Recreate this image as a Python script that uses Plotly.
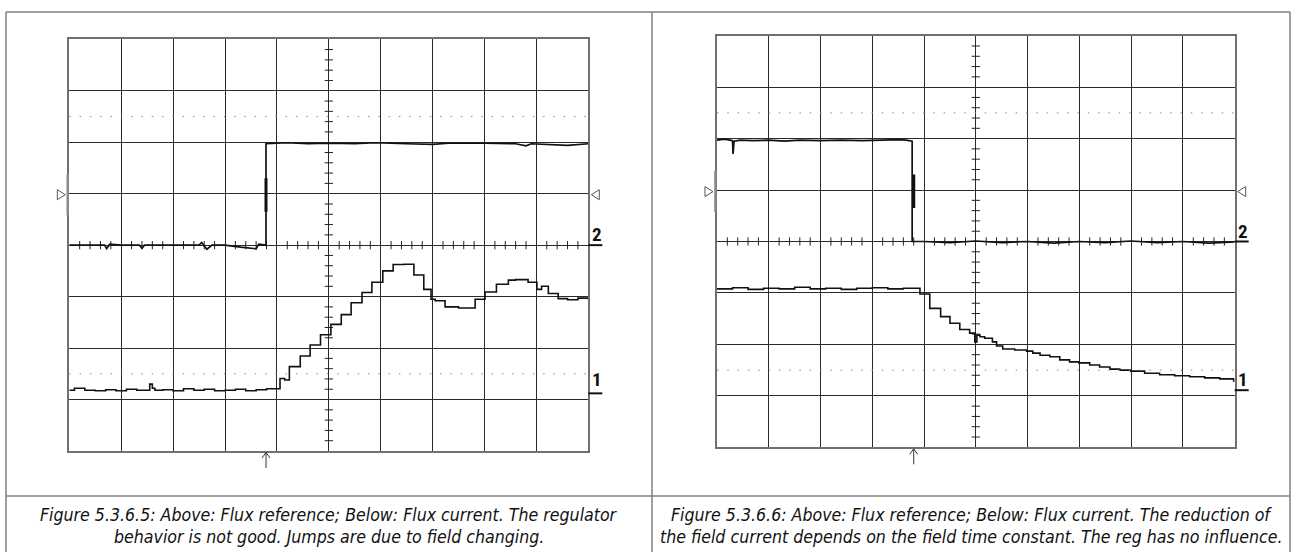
import numpy as np
import plotly.graph_objects as go

# Scope units: time in horizontal divisions (0..10), level in vertical divisions (-4..4)

# ---- Figure 5.3.6.5 (left) ----
ref_left_t = [0, 0.3, 0.68, 0.72, 0.78, 1.0, 1.35, 1.4, 1.45, 1.8, 2.2, 2.5, 2.55, 2.65, 2.75,
              3.0, 3.3, 3.6, 3.65, 3.79, 3.79, 4.2, 4.6, 5.0, 5.5, 5.9, 6.5, 7.0, 7.3, 7.8,
              8.0, 8.6, 8.8, 8.9, 9.2, 9.6, 10]
ref_left_v = [0.0, 0.0, 0.0, -0.07, 0.02, 0.0, 0.0, -0.06, 0.0, 0.0, 0.0, 0.0, 0.05, -0.08, 0.0,
              0.0, -0.04, -0.07, 0.02, 0.0, 1.97, 1.99, 1.97, 1.98, 1.97, 1.99, 1.97, 1.96, 1.98, 1.97,
              1.98, 1.97, 1.93, 1.97, 1.96, 1.94, 1.97]

cur_left_t = [0, 0.1, 0.3, 0.5, 0.7, 0.9, 1.1, 1.3, 1.55, 1.6, 1.65, 1.8, 2.0, 2.2, 2.4, 2.6,
              2.8, 3.0, 3.2, 3.4, 3.6, 3.8, 4.06, 4.15, 4.24, 4.45, 4.64, 4.84, 5.04, 5.24,
              5.43, 5.64, 5.83, 6.04, 6.24, 6.45, 6.64, 6.83, 6.97, 7.05, 7.24, 7.5, 7.82,
              8.01, 8.23, 8.46, 8.6, 8.84, 9.01, 9.1, 9.23, 9.42, 9.6, 9.8, 10]
cur_left_v = [-2.82, -2.78, -2.82, -2.83, -2.81, -2.83, -2.80, -2.82, -2.70, -2.78, -2.82, -2.81,
              -2.83, -2.79, -2.82, -2.80, -2.83, -2.82, -2.80, -2.83, -2.81, -2.79, -2.59, -2.62,
              -2.36, -2.155, -1.94, -1.74, -1.54, -1.35, -1.12, -0.92, -0.72, -0.50, -0.375,
              -0.37, -0.58, -0.86, -1.05, -1.08, -1.20, -1.22, -1.05, -0.91, -0.76, -0.68,
              -0.67, -0.72, -0.86, -0.80, -0.94, -1.04, -1.06, -1.03, -1.05]

# ---- Figure 5.3.6.6 (right) ----
ref_right_t = [0, 0.15, 0.25, 0.30, 0.31, 0.33, 0.45, 0.7, 1.0, 1.3, 1.6, 2.0, 2.4, 2.8, 3.2,
               3.5, 3.65, 3.77, 3.77, 4.0, 4.5, 5.0, 5.5, 6.0, 6.5, 7.0, 7.5, 8.0, 8.5, 9.0,
               9.5, 10]
ref_right_v = [1.97, 1.99, 1.97, 1.96, 1.70, 1.95, 1.97, 1.96, 1.97, 1.95, 1.97, 1.96, 1.97,
               1.96, 1.97, 1.98, 1.97, 1.95, 0.0, 0.0, -0.02, 0.01, -0.02, 0.0, -0.03, 0.0,
               -0.02, 0.01, -0.02, 0.0, -0.03, -0.01]

cur_right_t = [0, 0.3, 0.6, 0.9, 1.2, 1.5, 1.8, 2.1, 2.4, 2.7, 3.0, 3.3, 3.6, 3.92, 4.11, 4.32,
               4.50, 4.69, 4.88, 4.98, 5.02, 5.08, 5.17, 5.32, 5.40, 5.52, 5.75, 5.98, 6.10,
               6.24, 6.43, 6.62, 6.81, 6.99, 7.20, 7.39, 7.59, 7.78, 7.99, 8.26, 8.55, 8.84,
               9.13, 9.42, 9.71, 9.98, 10]
cur_right_v = [-0.92, -0.90, -0.93, -0.91, -0.92, -0.89, -0.92, -0.91, -0.93, -0.91, -0.90,
               -0.92, -0.91, -1.02, -1.30, -1.46, -1.59, -1.71, -1.78, -1.95, -1.82, -1.85,
               -1.88, -1.95, -2.03, -2.09, -2.11, -2.13, -2.17, -2.21, -2.24, -2.30, -2.34,
               -2.36, -2.40, -2.44, -2.48, -2.50, -2.52, -2.56, -2.59, -2.61, -2.63, -2.65,
               -2.67, -2.71, -2.71]

W, H = 1296, 552
CAPTION_FONT = "DejaVu Sans Condensed, Liberation Sans Narrow, sans-serif"
LABEL_FONT = "Roboto Condensed, DejaVu Sans Condensed, sans-serif"


def px_x(p):
    return p / W


def px_y(p):
    return 1 - p / H


panels = [
    dict(xa="x", ya="y", xdom=[69.3, 588.3], ydom=[39.3, 451.0],
         ref=(ref_left_t, ref_left_v), cur=(cur_left_t, cur_left_v),
         trig=3.79, lbl1=-2.61, ul1=-2.88, lbl2=0.21, ul2=0.0, tri=0.98,
         caption=["Figure 5.3.6.5: Above: Flux reference; Below: Flux current. The regulator",
                  "behavior is not good. Jumps are due to field changing."], cx=329),
    dict(xa="x2", ya="y2", xdom=[717.0, 1234.7], ydom=[35.7, 447.3],
         ref=(ref_right_t, ref_right_v), cur=(cur_right_t, cur_right_v),
         trig=3.80, lbl1=-2.69, ul1=-2.89, lbl2=0.19, ul2=0.0, tri=0.97,
         caption=["Figure 5.3.6.6: Above: Flux reference; Below: Flux current. The reduction of",
                  "the field current depends on the field time constant. The reg has no influence."], cx=971),
]

fig = go.Figure()
shapes = []
annotations = []
layout = dict(width=W, height=H, margin=dict(l=0, r=0, t=0, b=0),
              paper_bgcolor="white", plot_bgcolor="white", showlegend=False)

for i, p in enumerate(panels):
    xa, ya = p["xa"], p["ya"]
    axkey = "xaxis" if i == 0 else "xaxis2"
    aykey = "yaxis" if i == 0 else "yaxis2"
    x0d, x1d = p["xdom"]
    y0d, y1d = p["ydom"]

    # map scope divisions to paper coordinates (for marks that sit outside the graticule)
    def gx(t, x0d=x0d, x1d=x1d):
        return px_x(x0d + (x1d - x0d) * t / 10.0)

    def gy(v, y0d=y0d, y1d=y1d):
        return px_y(y0d + (y1d - y0d) * (4.0 - v) / 8.0)

    common = dict(showgrid=True, gridcolor="#2a2a2a", gridwidth=1, dtick=1, tick0=0,
                  showticklabels=False, ticks="", zeroline=False, showline=True,
                  mirror=True, linecolor="#707070", linewidth=1.5, fixedrange=True)
    layout[axkey] = dict(common, range=[0, 10], domain=[px_x(x0d), px_x(x1d)], anchor=ya)
    layout[aykey] = dict(common, range=[-4, 4], domain=[px_y(y1d), px_y(y0d)], anchor=xa)

    # dotted reference lines
    for lv in (2.5, -2.5):
        shapes.append(dict(type="line", xref=xa, yref=ya, x0=0, x1=10, y0=lv, y1=lv,
                           line=dict(color="#8a8a8a", width=1, dash="1.5px,8.8px")))

    # minor ticks on the centre graticule lines
    tx, ty = [], []
    for v in np.arange(0.2, 10, 0.2):
        if abs(v - round(v)) > 1e-6:
            tx += [v, v, None]
            ty += [-0.08, 0.08, None]
    for v in np.arange(-3.8, 4, 0.2):
        if abs(v - round(v)) > 1e-6:
            tx += [4.92, 5.08, None]
            ty += [v, v, None]
    fig.add_trace(go.Scatter(x=tx, y=ty, mode="lines", xaxis=xa, yaxis=ya,
                             line=dict(color="#222", width=1), hoverinfo="skip"))

    # channel traces
    fig.add_trace(go.Scatter(x=p["ref"][0], y=p["ref"][1], mode="lines", xaxis=xa, yaxis=ya,
                             line=dict(color="#111", width=1.7), name="Flux reference"))
    fig.add_trace(go.Scatter(x=p["cur"][0], y=p["cur"][1], mode="lines", xaxis=xa, yaxis=ya,
                             line=dict(color="#111", width=1.6, shape="hv"), name="Flux current"))

    # trigger marker on the reference edge
    shapes.append(dict(type="line", xref=xa, yref=ya, x0=p["trig"], x1=p["trig"],
                       y0=0.65, y1=1.3, line=dict(color="#111", width=3)))

    # channel-2 offset markers (bar + open triangles either side)
    shapes.append(dict(type="line", xref="paper", yref="paper", x0=gx(-0.03), x1=gx(-0.03),
                       y0=gy(p["tri"] - 0.4), y1=gy(p["tri"] + 0.4),
                       line=dict(color="#8a8a8a", width=2.5)))
    ty_c = gy(p["tri"])
    dy = 5 / H
    lx = gx(0) - 12 / W
    shapes.append(dict(type="path", xref="paper", yref="paper",
                       path="M %f %f L %f %f L %f %f Z" % (lx, ty_c + dy, lx, ty_c - dy, lx + 8 / W, ty_c),
                       line=dict(color="#555", width=1)))
    rx = gx(10) + 11 / W
    shapes.append(dict(type="path", xref="paper", yref="paper",
                       path="M %f %f L %f %f L %f %f Z" % (rx, ty_c + dy, rx, ty_c - dy, rx - 8 / W, ty_c),
                       line=dict(color="#555", width=1)))

    # channel labels with ground underline
    for txt, ly, uy in (("2", p["lbl2"], p["ul2"]), ("1", p["lbl1"], p["ul1"])):
        annotations.append(dict(xref="paper", yref="paper", x=gx(10.16), y=gy(ly),
                                text="<b>%s</b>" % txt, showarrow=False,
                                xanchor="center", yanchor="middle",
                                font=dict(family=LABEL_FONT, size=19, color="#111")))
        shapes.append(dict(type="line", xref="paper", yref="paper", x0=gx(10.0), x1=gx(10.27),
                           y0=gy(uy), y1=gy(uy), line=dict(color="#111", width=2)))

    # trigger arrow below the graticule (open head)
    ax_ = gx(p["trig"])
    a_top = px_y(y1d + 1.5)
    a_bot = px_y(y1d + 17)
    a_head = px_y(y1d + 7)
    arrow = dict(color="#333", width=1)
    shapes.append(dict(type="line", xref="paper", yref="paper", x0=ax_, x1=ax_,
                       y0=a_bot, y1=a_top, line=arrow))
    shapes.append(dict(type="path", xref="paper", yref="paper",
                       path="M %f %f L %f %f L %f %f" % (ax_ - 4 / W, a_head, ax_, a_top, ax_ + 4 / W, a_head),
                       line=arrow))

    # caption
    for k, line in enumerate(p["caption"]):
        annotations.append(dict(xref="paper", yref="paper", x=px_x(p["cx"]),
                                y=px_y(515 + 22 * k), text="<i>%s</i>" % line, showarrow=False,
                                xanchor="center", yanchor="middle",
                                font=dict(family=CAPTION_FONT, size=17.6, color="#111")))

# table frame
frame = dict(color="#808080", width=1.5)
for x0, y0, x1, y1 in ((6, 12, 1290, 12), (6, 12, 6, 552), (652, 12, 652, 552),
                       (1290, 12, 1290, 552), (6, 496, 1290, 496)):
    shapes.append(dict(type="line", xref="paper", yref="paper",
                       x0=px_x(x0), x1=px_x(x1), y0=px_y(y0), y1=px_y(y1), line=frame))

layout["shapes"] = shapes
layout["annotations"] = annotations
fig.update_layout(**layout)
fig.write_html("out.html")
